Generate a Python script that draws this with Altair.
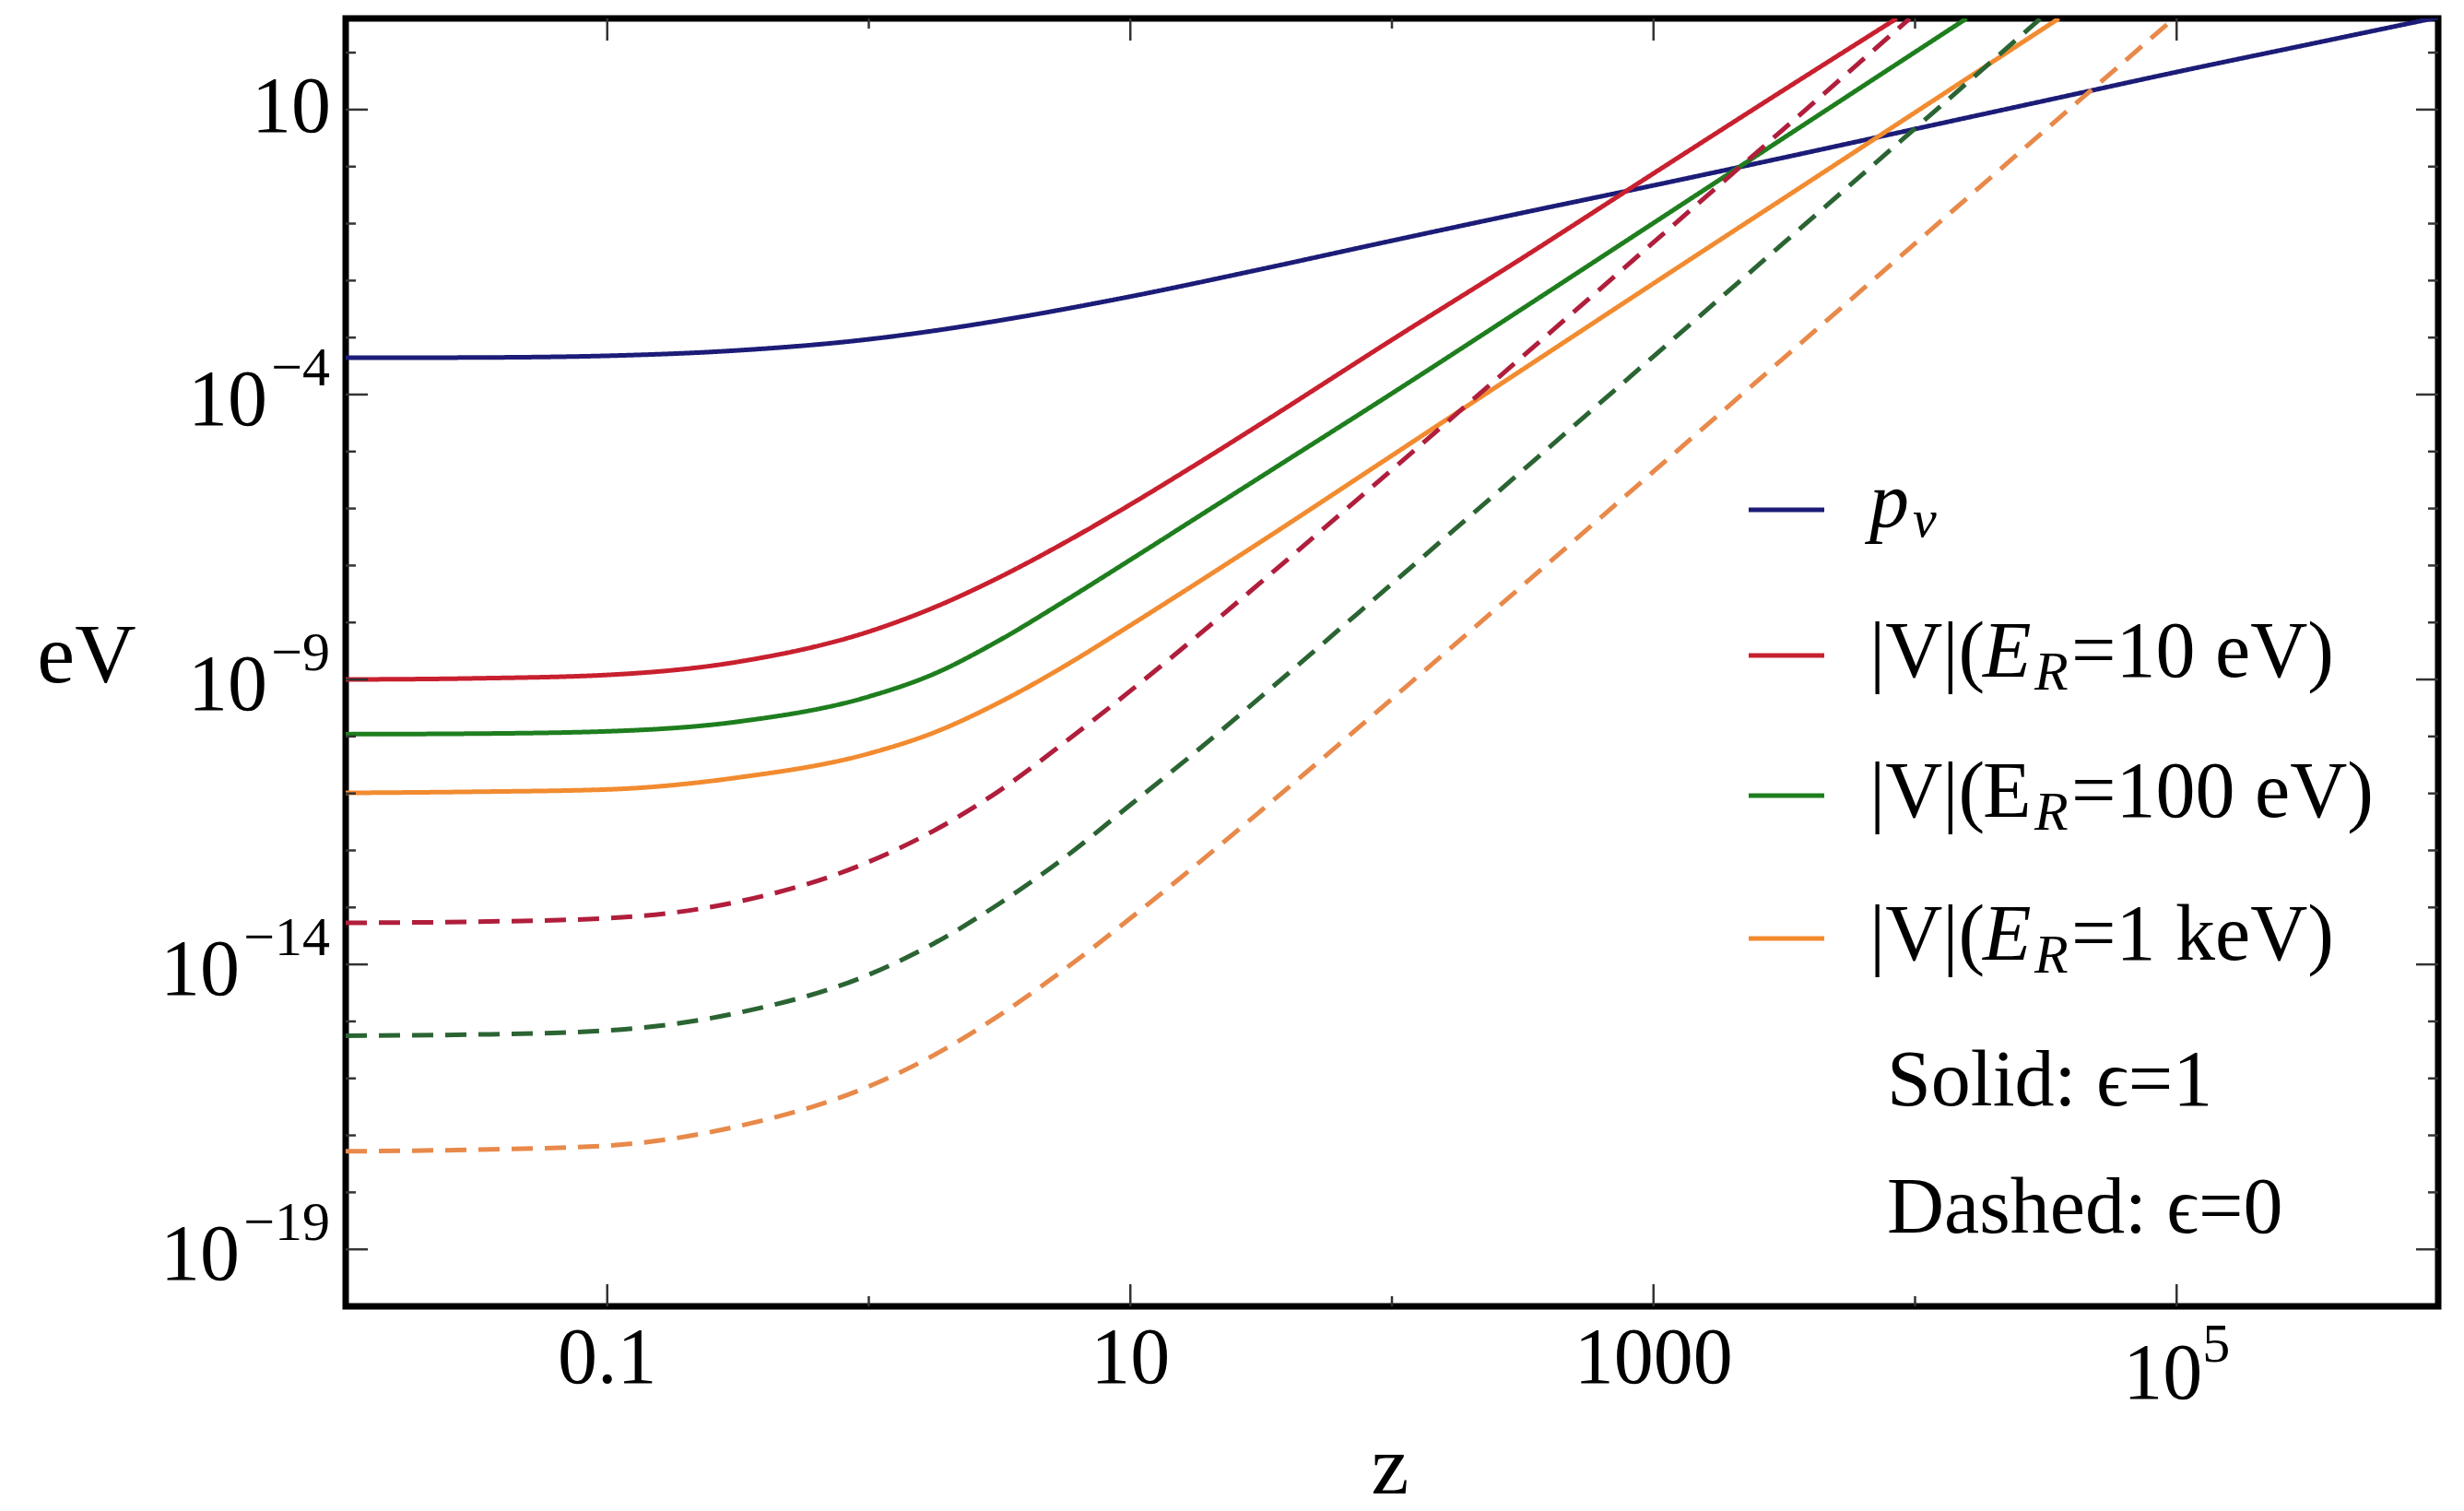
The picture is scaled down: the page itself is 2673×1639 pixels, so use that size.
import numpy as np
import pandas as pd
import altair as alt

FONT = "Liberation Serif"

# ---- curves: log10(z) and log10(value / eV) ----
P_NU_LOGZ = [-2, -1.5, -1, -0.5, 0, 0.25, 0.5, 1, 1.5, 2, 2.5, 3, 3.5, 4, 4.5, 5, 5.5, 6]
P_NU_LOGV = [-3.355, -3.35, -3.32, -3.225, -3.03, -2.88, -2.70, -2.28, -1.80, -1.30, -0.81,
             -0.33, 0.16, 0.66, 1.16, 1.66, 2.14, 2.62]

V10_SOLID_LOGZ = [-2, -1.5, -1, -0.5, 0, 0.25, 0.5, 0.75, 1, 1.25, 1.5, 2, 2.5, 3, 3.5, 3.93]
V10_SOLID_LOGV = [-9.0, -8.98, -8.92, -8.69, -8.16, -7.735, -7.205, -6.595, -5.93, -5.23, -4.51,
                  -3.04, -1.60, -0.12, 1.35, 2.6]

V100_SOLID_LOGZ = [-2, -1.5, -1, -0.5, 0, 0.25, 0.5, 0.75, 1, 1.25, 1.5, 2, 2.5, 3, 3.5, 4, 4.197]
V100_SOLID_LOGV = [-9.96, -9.95, -9.91, -9.74, -9.30, -8.90, -8.31, -7.62, -6.90, -6.17, -5.44,
                   -3.98, -2.49, -0.99, 0.51, 2.01, 2.6]

V1K_SOLID_LOGZ = [-2, -1.5, -1, -0.5, 0, 0.25, 0.5, 0.75, 1, 1.25, 1.5, 2, 2.5, 3, 3.5, 4, 4.55]
V1K_SOLID_LOGV = [-10.99, -10.97, -10.93, -10.72, -10.30, -9.93, -9.40, -8.76, -8.05, -7.32,
                  -6.58, -5.07, -3.56, -2.05, -0.55, 0.95, 2.6]

V10_DASHED_LOGZ = [-2, -1.5, -1, -0.5, 0, 0.25, 0.5, 0.75, 1, 1.25, 1.5, 2, 2.5, 3, 3.5, 3.98]
V10_DASHED_LOGV = [-13.27, -13.25, -13.19, -12.9, -12.2, -11.65, -10.95, -10.10, -9.20, -8.26,
                   -7.29, -5.32, -3.33, -1.33, 0.67, 2.6]

V100_DASHED_LOGZ = [-2, -1.5, -1, -0.5, 0, 0.25, 0.5, 0.75, 1, 1.25, 1.5, 2, 2.5, 3, 3.5, 4, 4.48]
V100_DASHED_LOGV = [-15.25, -15.23, -15.16, -14.85, -14.18, -13.63, -12.93, -12.12, -11.20,
                    -10.27, -9.30, -7.32, -5.33, -3.33, -1.33, 0.67, 2.6]

V1K_DASHED_LOGZ = [-2, -1.5, -1, -0.5, 0, 0.25, 0.5, 0.75, 1, 1.25, 1.5, 2, 2.5, 3, 3.5, 4, 4.5, 4.99]
V1K_DASHED_LOGV = [-17.28, -17.25, -17.18, -16.84, -16.14, -15.59, -14.89, -14.08, -13.19, -12.26,
                   -11.30, -9.34, -7.35, -5.35, -3.35, -1.35, 0.65, 2.6]

SERIES_NAMES = ["p_nu", "V10", "V100", "V1k", "V10d", "V100d", "V1kd"]
SERIES_COLORS = ["#1c1c78", "#c8202f", "#1e7e1e", "#f28b30", "#b01e3c", "#2b6433", "#e8894a"]
SERIES_STYLES = ["solid", "solid", "solid", "solid", "dashed", "dashed", "dashed"]

# ---- ticks and tick labels ----
X_MAJOR = [0.1, 10, 1000, 100000]
X_TICK_BASE = ["0.1", "10", "1000", "10"]
X_TICK_EXP = ["", "", "", "5"]
X_MINOR = [1, 100, 10000]
Y_MAJOR = [10, 1e-4, 1e-9, 1e-14, 1e-19]
Y_TICK_BASE = ["10", "10", "10", "10", "10"]
Y_TICK_EXP = ["", "\u22124", "\u22129", "\u221214", "\u221219"]
Y_MINOR = [1e2, 1, 1e-1, 1e-2, 1e-3, 1e-5, 1e-6, 1e-7, 1e-8, 1e-10, 1e-11, 1e-12, 1e-13,
           1e-15, 1e-16, 1e-17, 1e-18]

# ---- build long table ----
curves = [
    (P_NU_LOGZ, P_NU_LOGV), (V10_SOLID_LOGZ, V10_SOLID_LOGV), (V100_SOLID_LOGZ, V100_SOLID_LOGV),
    (V1K_SOLID_LOGZ, V1K_SOLID_LOGV), (V10_DASHED_LOGZ, V10_DASHED_LOGV),
    (V100_DASHED_LOGZ, V100_DASHED_LOGV), (V1K_DASHED_LOGZ, V1K_DASHED_LOGV),
]
frames = []
for name, style, (lz, lv) in zip(SERIES_NAMES, SERIES_STYLES, curves):
    frames.append(pd.DataFrame({
        "z": np.power(10.0, lz), "v": np.power(10.0, lv),
        "series": name, "style": style,
    }))
df = pd.concat(frames, ignore_index=True)

W, H = 2270, 1397
xscale = alt.Scale(type="log", domain=[0.01, 1e6])
yscale = alt.Scale(type="log", domain=[1e-20, 10 ** 2.6])

lines = alt.Chart(df).mark_line(clip=True, interpolate="monotone", strokeWidth=5).encode(
    x=alt.X("z:Q", scale=xscale, axis=None),
    y=alt.Y("v:Q", scale=yscale, axis=None),
    color=alt.Color("series:N", scale=alt.Scale(domain=SERIES_NAMES, range=SERIES_COLORS), legend=None),
    strokeDash=alt.StrokeDash("style:N", scale=alt.Scale(domain=["solid", "dashed"],
                                                         range=[[1, 0], [23, 13]]), legend=None),
    detail="series:N",
)

TICK_COLOR = "#333333"
MAJ, MIN = 24, 11


def xticks(vals, length, top):
    return alt.Chart(pd.DataFrame({"z": vals})).mark_rule(color=TICK_COLOR, strokeWidth=2.5).encode(
        x=alt.X("z:Q", scale=xscale, axis=None),
        y=alt.value(0 if top else H), y2=alt.value(length if top else H - length))


def yticks(vals, length, right):
    return alt.Chart(pd.DataFrame({"v": vals})).mark_rule(color=TICK_COLOR, strokeWidth=2.5).encode(
        y=alt.Y("v:Q", scale=yscale, axis=None),
        x=alt.value(W if right else 0), x2=alt.value(W - length if right else length))


tick_layers = [
    xticks(X_MAJOR, MAJ, False), xticks(X_MINOR, MIN, False),
    xticks(X_MAJOR, MAJ, True), xticks(X_MINOR, MIN, True),
    yticks(Y_MAJOR, MAJ, False), yticks(Y_MINOR, MIN, False),
    yticks(Y_MAJOR, MAJ, True), yticks(Y_MINOR, MIN, True),
]

# ---- tick labels as text (base + superscript exponent) ----
LBL = 86
EXP = 60
xlab = pd.DataFrame({"z": X_MAJOR, "base": X_TICK_BASE, "exp": X_TICK_EXP})
ylab = pd.DataFrame({"v": Y_MAJOR, "base": Y_TICK_BASE, "exp": Y_TICK_EXP})


def tmark(**kw):
    opts = dict(font=FONT, color="black", baseline="alphabetic")
    opts.update(kw)
    return opts


label_layers = [
    alt.Chart(xlab).transform_filter("datum.exp == ''").mark_text(
        **tmark(fontSize=LBL, align="center")).encode(
        x=alt.X("z:Q", scale=xscale, axis=None), y=alt.value(H + 83), text="base:N"),
    alt.Chart(xlab).transform_filter("datum.exp != ''").mark_text(
        **tmark(fontSize=LBL, align="center", dx=-15)).encode(
        x=alt.X("z:Q", scale=xscale, axis=None), y=alt.value(H + 100), text="base:N"),
    alt.Chart(xlab).transform_filter("datum.exp != ''").mark_text(
        **tmark(fontSize=EXP, align="left", dx=28)).encode(
        x=alt.X("z:Q", scale=xscale, axis=None), y=alt.value(H + 60), text="exp:N"),
    alt.Chart(ylab).transform_filter("datum.exp == ''").mark_text(
        **tmark(fontSize=LBL, align="right", dy=24)).encode(
        y=alt.Y("v:Q", scale=yscale, axis=None), x=alt.value(-16), text="base:N"),
    alt.Chart(ylab).transform_filter("datum.exp != ''").mark_text(
        **tmark(fontSize=EXP, align="right", dy=-10)).encode(
        y=alt.Y("v:Q", scale=yscale, axis=None), x=alt.value(-17), text="exp:N"),
    alt.Chart(ylab).transform_filter("datum.exp != ''").transform_calculate(
        bx="-25 - 30 * length(datum.exp)").mark_text(
        **tmark(fontSize=LBL, align="right", dy=33)).encode(
        y=alt.Y("v:Q", scale=yscale, axis=None), x=alt.X("bx:Q", scale=None), text="base:N"),
]

# ---- axis titles and hand-built legend ----
ONE = pd.DataFrame({"k": [0]})


def txt(s, x, y, size=86, italic=False, align="left"):
    return alt.Chart(ONE).mark_text(text=s, font=FONT, fontSize=size,
                                    fontStyle="italic" if italic else "normal",
                                    align=align, baseline="alphabetic", color="black").encode(
        x=alt.value(x), y=alt.value(y))


def leg_line(color, y):
    return alt.Chart(ONE).mark_rule(color=color, strokeWidth=5).encode(
        x=alt.value(1522), x2=alt.value(1604), y=alt.value(y))


title_layers = [txt("z", 1133, 1600, size=92, align="center"),
                txt("eV", -281, 720, size=92, align="center")]

LEG_Y = [533, 691, 843, 998]
LEG_COLORS = ["#1c1c78", "#c8202f", "#1e7e1e", "#f28b30"]
legend_layers = [leg_line(c, y) for c, y in zip(LEG_COLORS, LEG_Y)]
legend_layers += [txt("p", 1653, 551, italic=True), txt("\u03bd", 1700, 562, size=58, italic=True)]
rows = [("=10 eV)", True), ("=100 eV)", False), ("=1 keV)", True)]
for (tail, ital), ly in zip(rows, LEG_Y[1:]):
    b = ly + 23
    legend_layers += [
        txt("|V|(", 1653, b),
        txt("E", 1776, b, italic=ital),
        txt("R", 1832, b + 14, size=60, italic=True),
        txt(tail, 1872, b),
    ]
legend_layers += [txt("Solid: \u03f5=1", 1672, 1179), txt("Dashed: \u03f5=0", 1672, 1317)]

chart = alt.layer(lines, *tick_layers, *label_layers, *title_layers, *legend_layers).properties(
    width=W, height=H,
    autosize=alt.AutoSizeParams(type="none"),
    padding={"left": 375, "top": 20, "right": 28, "bottom": 222},
    background="white",
).configure_view(stroke="black", strokeWidth=7)

chart.save("out.html", embed_options={"renderer": "svg", "actions": False})
